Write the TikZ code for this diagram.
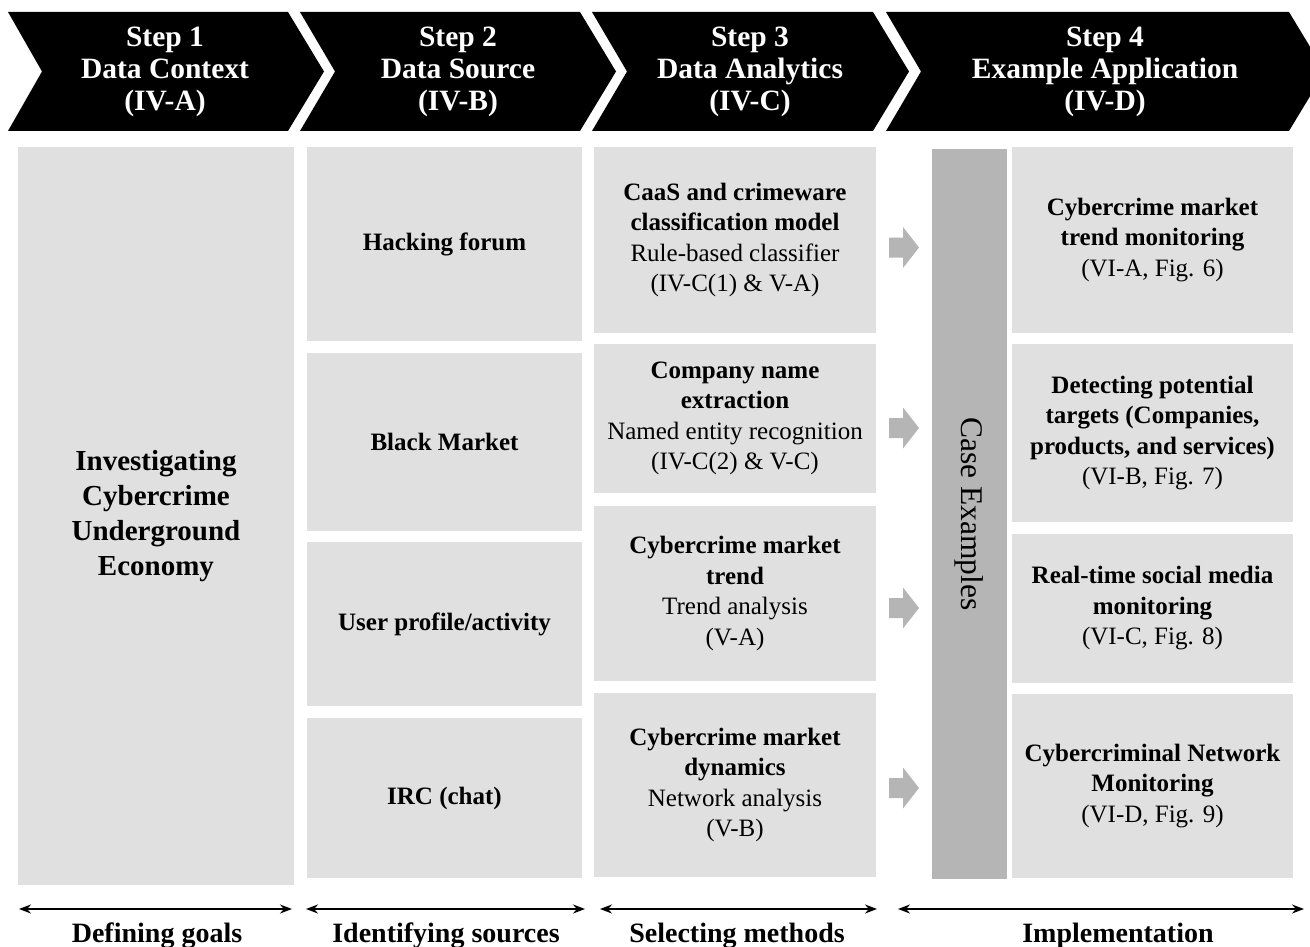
\documentclass[tikz,border=0pt]{standalone}
\usepackage{fontspec}
\setmainfont{Liberation Serif}
\usetikzlibrary{arrows.meta}
\definecolor{boxgray}{HTML}{E0E0E0}
\definecolor{bargray}{HTML}{B5B5B5}
\begin{document}
\begin{tikzpicture}[x=1pt,y=-1pt,
  box/.style={fill=boxgray, draw=none, inner sep=0pt, align=center, font=\fontsize{25}{30.5}\selectfont},
  chev/.style={fill=black},
  headtxt/.style={text=white, align=center, font=\bfseries\fontsize{29.5}{32}\selectfont},
  blockarrow/.style={fill=bargray},
  span/.style={{Stealth[length=12pt,width=9pt]}-{Stealth[length=12pt,width=9pt]}, line width=1.8pt},
  foot/.style={font=\bfseries\fontsize{28}{32}\selectfont, anchor=base, inner sep=0pt}]
\useasboundingbox (0,0) rectangle (1310,947);

% header chevrons
\fill[chev] (8,12) -- (288,12) -- (324,71.5) -- (288,131) -- (8,131) -- (42,71.5) -- cycle;
\fill[chev] (300,12) -- (580,12) -- (616,71.5) -- (580,131) -- (300,131) -- (335,71.5) -- cycle;
\fill[chev] (592,12) -- (873,12) -- (909,71.5) -- (873,131) -- (592,131) -- (627,71.5) -- cycle;
\fill[chev] (886,12) -- (1289,12) -- (1325,71.5) -- (1289,131) -- (886,131) -- (921,71.5) -- cycle;
\node[headtxt] (h1) at (165,72) {Step 1\\Data Context\\(IV-A)};
\node[headtxt] (h2) at (458,72) {Step 2\\Data Source\\(IV-B)};
\node[headtxt] (h3) at (750,72) {Step 3\\Data Analytics\\(IV-C)};
\node[headtxt] (h4) at (1105,72) {Step 4\\Example Application\\(IV-D)};

% column 1
\node[box, minimum width=276pt, minimum height=738pt, font=\bfseries\fontsize{29}{35}\selectfont] (c1) at (156,516)
  {Investigating\\Cybercrime\\Underground\\Economy};

% column 2
\node[box, minimum width=275pt, minimum height=194pt] (s1) at (444.5,244) {\textbf{Hacking forum}};
\node[box, minimum width=275pt, minimum height=178pt] (s2) at (444.5,442) {\textbf{Black Market}};
\node[box, minimum width=275pt, minimum height=164pt] (s3) at (444.5,624) {\textbf{User profile/activity}};
\node[box, minimum width=275pt, minimum height=160pt] (s4) at (444.5,798) {\textbf{IRC (chat)}};

% column 3
\node[box, minimum width=282pt, minimum height=186pt] (m1) at (735,240)
  {\textbf{CaaS and crimeware}\\\textbf{classification model}\\Rule-based classifier\\(IV-C(1) \& V-A)};
\node[box, minimum width=282pt, minimum height=149pt] (m2) at (735,418.5)
  {\textbf{Company name}\\\textbf{extraction}\\Named entity recognition\\(IV-C(2) \& V-C)};
\node[box, minimum width=282pt, minimum height=175pt] (m3) at (735,593.5)
  {\textbf{Cybercrime market}\\\textbf{trend}\\Trend analysis\\(V-A)};
\node[box, minimum width=282pt, minimum height=184pt] (m4) at (735,785)
  {\textbf{Cybercrime market}\\\textbf{dynamics}\\Network analysis\\(V-B)};

% block arrows
\foreach \yy in {247.5,428,608,788}
  \fill[blockarrow, shift={(904,\yy)}] (-15,-10) -- (-1,-10) -- (-1,-20.5) -- (15,0) -- (-1,20.5) -- (-1,10) -- (-15,10) -- cycle;

% case examples bar
\node[fill=bargray, inner sep=0pt, minimum width=75pt, minimum height=730pt] (bar) at (969.5,514) {};
\node[rotate=-90, inner sep=0pt, font=\fontsize{31.5}{31.5}\selectfont] (ce) at (bar.center) {Case Examples};

% column 4
\node[box, minimum width=281pt, minimum height=186pt] (a1) at (1152.5,240)
  {\textbf{Cybercrime market}\\\textbf{trend monitoring}\\(VI-A, Fig. 6)};
\node[box, minimum width=281pt, minimum height=178pt] (a2) at (1152.5,433)
  {\textbf{Detecting potential}\\\textbf{targets (Companies,}\\\textbf{products, and services)}\\(VI-B, Fig. 7)};
\node[box, minimum width=281pt, minimum height=149pt] (a3) at (1152.5,608.5)
  {\textbf{Real-time social media}\\\textbf{monitoring}\\(VI-C, Fig. 8)};
\node[box, minimum width=281pt, minimum height=184pt] (a4) at (1152.5,786)
  {\textbf{Cybercriminal Network}\\\textbf{Monitoring}\\(VI-D, Fig. 9)};

% bottom spans
\coordinate (p1l) at (19,909);  \coordinate (p1r) at (292,909);
\coordinate (p2l) at (306,909); \coordinate (p2r) at (585,909);
\coordinate (p3l) at (600,909); \coordinate (p3r) at (877,909);
\coordinate (p4l) at (898,909); \coordinate (p4r) at (1304,909);
\draw[span] (p1l) -- (p1r);
\draw[span] (p2l) -- (p2r);
\draw[span] (p3l) -- (p3r);
\draw[span] (p4l) -- (p4r);
\node[foot] (f1) at (157,942) {Defining goals};
\node[foot] (f2) at (446,942) {Identifying sources};
\node[foot] (f3) at (737,942) {Selecting methods};
\node[foot] (f4) at (1118,942) {Implementation};
\end{tikzpicture}
\end{document}
